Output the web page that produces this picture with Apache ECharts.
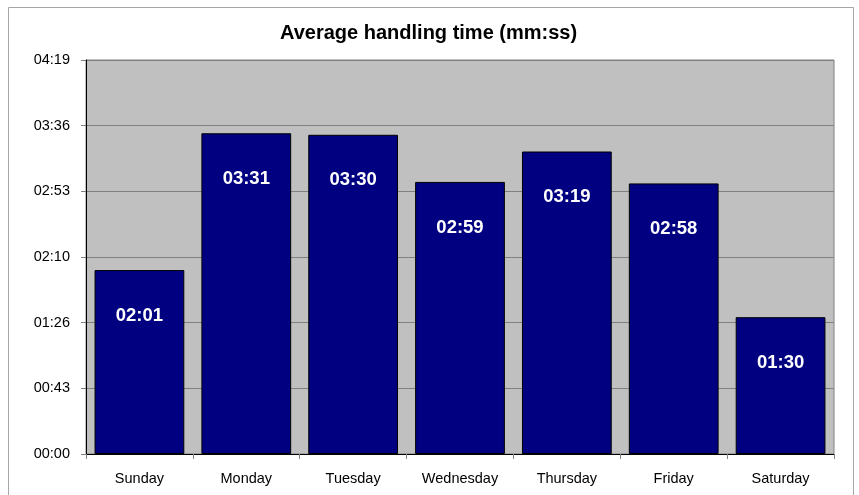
<!DOCTYPE html>
<html>
<head>
<meta charset="utf-8">
<script src="https://cdn.jsdelivr.net/npm/echarts@6/dist/echarts.min.js"></script>
<style>
html,body{margin:0;padding:0;background:#fff;}
#main{width:859px;height:495px;}
</style>
</head>
<body>
<div id="main"></div>
<script>
// 数据
var days = ['Sunday','Monday','Tuesday','Wednesday','Thursday','Friday','Saturday'];
// 平均处理时间（秒）
var seconds = [121, 211, 210, 179, 199, 178, 90];
var yMax = 259.2;
var yStep = 43.2;

// 秒 -> mm:ss
function toMMSS(v){
    var s = Math.round(v);
    var m = Math.floor(s / 60);
    var r = s % 60;
    return (m < 10 ? '0' + m : m) + ':' + (r < 10 ? '0' + r : r);
}

var chart = echarts.init(document.getElementById('main'));
var option = {
    backgroundColor: '#fff',
    animation: false,
    title: {
        text: 'Average handling time (mm:ss)',
        left: 275,
        top: 18,
        textStyle: {fontFamily: 'Liberation Sans, Arial', fontSize: 20, fontWeight: 'bold', color: '#000'}
    },
    graphic: [{
        type: 'rect',
        shape: {x: 8.5, y: 7.5, width: 845, height: 500},
        style: {fill: 'none', stroke: '#a6a6a6', lineWidth: 1},
        silent: true
    }],
    grid: {
        left: 86, top: 60, right: 25, bottom: 41,
        show: true,
        backgroundColor: '#c0c0c0',
        borderColor: '#808080',
        borderWidth: 1
    },
    xAxis: {
        type: 'category',
        data: days,
        axisLine: {lineStyle: {color: '#000', width: 1}},
        axisTick: {show: true, length: 5, lineStyle: {color: '#808080'}},
        axisLabel: {fontFamily: 'Liberation Sans, Arial', fontSize: 14.5, color: '#000', margin: 17}
    },
    yAxis: {
        type: 'value',
        min: 0,
        max: yMax,
        interval: yStep,
        axisLine: {show: true, lineStyle: {color: '#000', width: 1}},
        axisTick: {show: true, length: 5, lineStyle: {color: '#808080'}},
        splitLine: {lineStyle: {color: '#808080', width: 1}},
        axisLabel: {
            fontFamily: 'Liberation Sans, Arial', fontSize: 14.5, color: '#000', margin: 16,
            formatter: function(v){ return toMMSS(v); }
        }
    },
    series: [{
        type: 'bar',
        data: seconds,
        barCategoryGap: '16%',
        itemStyle: {color: '#000080', borderColor: '#000', borderWidth: 1},
        label: {
            show: true,
            position: 'insideTop',
            distance: 36,
            color: '#fff',
            fontFamily: 'Liberation Sans, Arial',
            fontSize: 18.5,
            fontWeight: 'bold',
            formatter: function(p){ return toMMSS(p.value); }
        }
    }]
};
chart.setOption(option);
</script>
</body>
</html>
